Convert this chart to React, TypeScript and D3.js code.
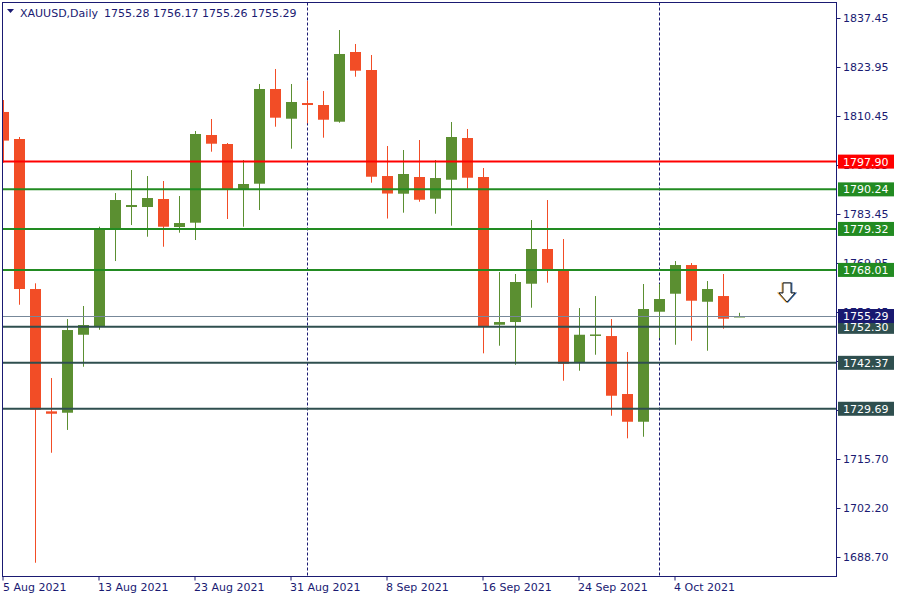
import React from "react";
import * as d3 from "d3";

const dates = [
  "5 Aug 2021","6 Aug 2021","9 Aug 2021","10 Aug 2021","11 Aug 2021","12 Aug 2021","13 Aug 2021",
  "16 Aug 2021","17 Aug 2021","18 Aug 2021","19 Aug 2021","20 Aug 2021","23 Aug 2021","24 Aug 2021",
  "25 Aug 2021","26 Aug 2021","27 Aug 2021","30 Aug 2021","31 Aug 2021","1 Sep 2021","2 Sep 2021",
  "3 Sep 2021","6 Sep 2021","7 Sep 2021","8 Sep 2021","9 Sep 2021","10 Sep 2021","13 Sep 2021",
  "14 Sep 2021","15 Sep 2021","16 Sep 2021","17 Sep 2021","20 Sep 2021","21 Sep 2021","22 Sep 2021",
  "23 Sep 2021","24 Sep 2021","27 Sep 2021","28 Sep 2021","29 Sep 2021","30 Sep 2021","1 Oct 2021",
  "4 Oct 2021","5 Oct 2021","6 Oct 2021","7 Oct 2021","8 Oct 2021",
];
const opens = [1811.6,1804.14,1762.74,1728.98,1728.6,1750.12,1752.33,1779.38,1785.37,1785.37,1787.58,1779.85,1781.04,1805.24,1802.76,1790.14,1791.8,1817.94,1809.74,1814.07,1813.52,1808.91,1828.15,1823.18,1793.92,1789.04,1793.65,1787.66,1792.9,1804.41,1793.65,1752.88,1753.63,1764.2,1773.78,1768.06,1742.4,1749.9,1749.76,1733.76,1726.11,1756.47,1761.44,1769.36,1759.23,1760.8,1755.28];
const highs = [1814.9,1804.69,1764.31,1738.17,1754.45,1758.05,1779.93,1789.23,1795.58,1793.92,1792.55,1788.4,1806.35,1809.66,1803.03,1798.34,1819.32,1823.46,1819.32,1820.23,1817.38,1834.22,1830.36,1827.32,1802.2,1801.1,1803.86,1798.34,1808.83,1806.9,1796.13,1767.43,1766.88,1781.78,1787.3,1776.54,1757.49,1760.8,1754.45,1745.35,1764.12,1764.12,1770.46,1769.91,1764.94,1766.88,1756.17];
const lows = [1797.6,1758.4,1687.2,1717.55,1723.85,1741.29,1751.5,1770.46,1780.4,1777.17,1774.41,1778.28,1776.26,1800.63,1782.06,1779.93,1784.54,1807.53,1801.46,1808.47,1804.5,1808.64,1821.33,1792.08,1782.19,1783.8,1786.83,1783.52,1780.21,1790.42,1744.99,1747.09,1741.84,1757.58,1764.48,1737.43,1740.19,1744.6,1727.77,1721.53,1721.97,1749.21,1747.36,1748.47,1745.71,1751.78,1755.26];
const closes = [1803.7,1762.74,1729.42,1728.32,1751.42,1752.8,1779.57,1787.3,1785.92,1787.85,1779.93,1780.95,1805.52,1802.84,1790.14,1791.72,1817.94,1810.02,1814.35,1813.52,1809.46,1827.6,1822.99,1793.73,1789.09,1794.48,1787.38,1793.37,1804.69,1793.45,1752.33,1753.63,1764.67,1773.78,1767.79,1742.12,1750.12,1750.2,1733.29,1726.11,1757.22,1759.98,1769.36,1759.51,1762.74,1754.54,1755.29];

const priceTicks = [1837.45,1823.95,1810.45,1796.95,1783.45,1769.95,1756.45,1742.95,1729.45,1715.70,1702.20,1688.70];
const levelValues = [1797.90,1790.24,1779.32,1768.01,1752.30,1742.37,1729.69];
const levelKinds = ["resistance-red","resistance","resistance","resistance","support","support","support"];
const currentPrice = 1755.29;
const symbolTitle = "XAUUSD,Daily";
const ohlcText = "1755.28 1756.17 1755.26 1755.29";
const dateTickEvery = 6;
const monthStarts = [19, 41];

const UP = "#5b8f31";
const DOWN = "#f24d26";
const AXIS = "#1a1a72";
const levelColor: Record<string, string> = {
  "resistance-red": "#ff0000",
  resistance: "#228b22",
  support: "#2f4f4f",
};

export default function App() {
  const left = 2.5, right = 836.5, top = 2.5, bottom = 576.5;
  const x = d3.scaleLinear().domain([0, dates.length - 1]).range([3.5, 3.5 + 16 * (dates.length - 1)]);
  const y = d3.scaleLinear().domain([1688.7, 1837.45]).range([557.3, 18.3]);
  const bw = 11;
  const font = "DejaVu Sans, sans-serif";
  const px = (i: number) => Math.floor(x(i)) + 0.5;

  const candles = dates.map((d, i) => {
    const o = opens[i], c = closes[i], h = highs[i], l = lows[i];
    const up = c >= o;
    const col = up ? UP : DOWN;
    const cx = px(i);
    const yt = y(Math.max(o, c)), yb = y(Math.min(o, c));
    return (
      <g key={i}>
        <line x1={cx} x2={cx} y1={y(h)} y2={y(l)} stroke={col} strokeWidth={1} />
        <rect x={cx - bw / 2} y={yt} width={bw} height={Math.max(1.5, yb - yt)} fill={col} />
      </g>
    );
  });

  const arrowPath = "M-4,0 L4,0 L4,10 L8,10 L0,19 L-8,10 L-4,10 Z";

  return (
    <svg width={900} height={600} style={{ position: "absolute", left: 0, top: 0, background: "#fff" }}>
      <rect x={0} y={0} width={900} height={600} fill="#fff" />
      <defs>
        <clipPath id="plot">
          <rect x={left} y={top} width={right - left} height={bottom - top} />
        </clipPath>
      </defs>
      <g clipPath="url(#plot)">
        {monthStarts.map((i) => (
          <line key={i} x1={px(i)} x2={px(i)} y1={top} y2={bottom}
            stroke={AXIS} strokeWidth={1} strokeDasharray="3,2" />
        ))}
        {candles}
        <line x1={left} x2={right} y1={Math.round(y(currentPrice)) + 0.5} y2={Math.round(y(currentPrice)) + 0.5}
          stroke="#778899" strokeWidth={1} />
        {levelValues.map((v, i) => (
          <line key={i} x1={left} x2={right} y1={y(v)} y2={y(v)} stroke={levelColor[levelKinds[i]]} strokeWidth={2} />
        ))}
        {/* down arrow */}
        <g transform="translate(787,283)">
          <path d={arrowPath} fill="none" stroke="#f0a030" strokeWidth={1.2} transform="translate(-0.8,0)" />
          <path d={arrowPath} fill="none" stroke="#1f5fb0" strokeWidth={1.2} transform="translate(0.8,0)" />
          <path d={arrowPath} fill="#fff" stroke="#222" strokeWidth={1} />
        </g>
      </g>
      {/* frame */}
      <rect x={left} y={top} width={right - left} height={bottom - top} fill="none" stroke={AXIS} strokeWidth={1} />
      {/* header */}
      <path d="M7,9 L14,9 L10.5,13 Z" fill={AXIS} />
      <text x={20} y={17} fontFamily={font} fontSize={11} fill={AXIS}>{symbolTitle}</text>
      <text x={104} y={17} fontFamily={font} fontSize={11} fill={AXIS}>{ohlcText}</text>
      {/* right axis */}
      {priceTicks.map((t) => (
        <g key={t}>
          <line x1={right} x2={right + 4} y1={Math.round(y(t)) + 0.5} y2={Math.round(y(t)) + 0.5} stroke={AXIS} />
          <text x={843} y={y(t) + 4} fontFamily={font} fontSize={11} fill={AXIS}>{t.toFixed(2)}</text>
        </g>
      ))}
      {levelValues.map((v, i) => (
        <g key={i}>
          <rect x={838} y={y(v) - 7} width={56} height={14} fill={levelColor[levelKinds[i]]} />
          <text x={843} y={y(v) + 4} fontFamily={font} fontSize={11} fill="#fff">{v.toFixed(2)}</text>
        </g>
      ))}
      <g>
        <rect x={838} y={y(currentPrice) - 7} width={56} height={14} fill="#191970" />
        <text x={843} y={y(currentPrice) + 4} fontFamily={font} fontSize={11} fill="#fff">{currentPrice.toFixed(2)}</text>
      </g>
      {/* bottom axis */}
      {dates.map((d, i) => i % dateTickEvery === 0 ? (
        <g key={d}>
          <line x1={px(i) - 0.5 + (i === 0 ? 0 : 0)} x2={px(i) - 0.5} y1={bottom} y2={bottom + 4} stroke={AXIS} />
          <text x={Math.floor(x(i)) - 1 < 3 ? 3 : Math.floor(x(i)) - 1} y={591} fontFamily={font} fontSize={11} fill={AXIS}>{d}</text>
        </g>
      ) : null)}
    </svg>
  );
}
